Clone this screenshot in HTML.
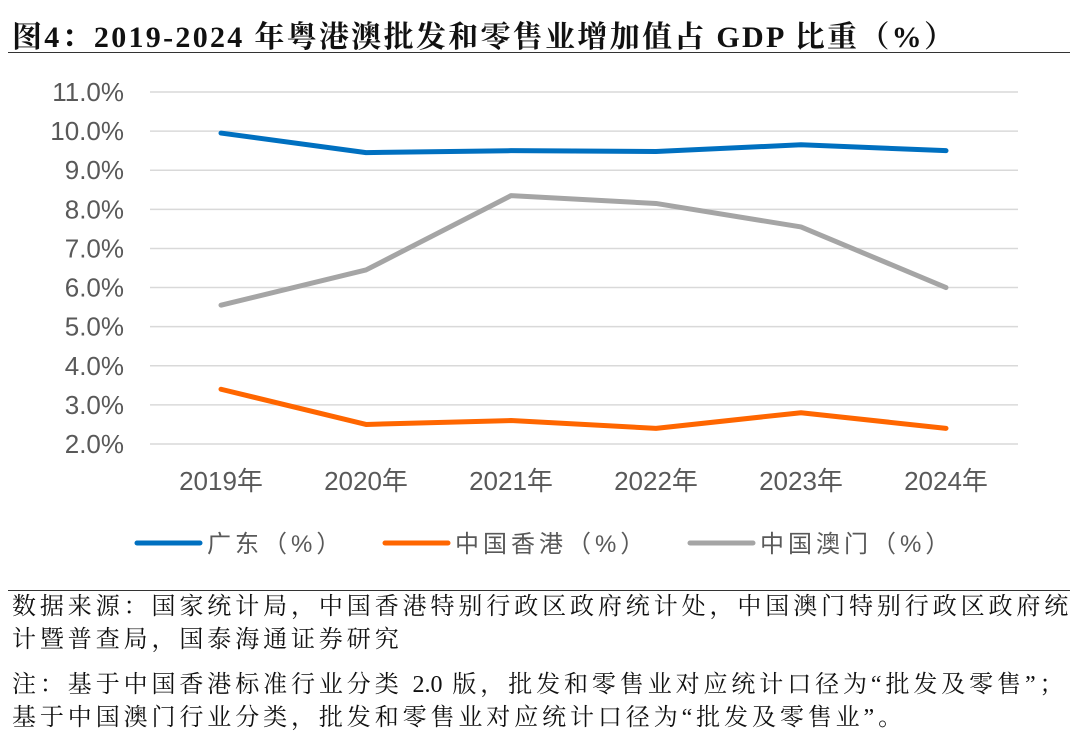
<!DOCTYPE html>
<html><head><meta charset="utf-8"><style>
body{margin:0;width:1080px;height:745px;background:#fff;overflow:hidden;position:relative;font-family:"Liberation Serif","Noto Serif CJK SC",serif}
.t{position:absolute;white-space:nowrap}
.n{letter-spacing:0}
</style></head><body>
<div class="t" style="left:12px;top:12px;font-size:30px;letter-spacing:2.3px;font-weight:bold;color:#111">图4：2019-2024 年粤港澳批发和零售业增加值占 GDP 比重（%）</div>
<div style="position:absolute;left:8px;top:52px;width:1062px;height:1px;background:#333"></div>
<svg id="c" width="1080" height="590" style="position:absolute;left:0;top:0" font-family="Liberation Sans, Noto Sans CJK SC, sans-serif"></svg>
<div style="position:absolute;left:8px;top:590px;width:1062px;height:1px;background:#333"></div>
<div class="t" style="left:12px;top:591px;font-size:24px;letter-spacing:3.9px;line-height:33px;color:#111">数据来源：国家统计局，中国香港特别行政区政府统计处，中国澳门特别行政区政府统<br>计暨普查局，国泰海通证券研究</div>
<div class="t" style="left:12px;top:669px;font-size:24px;letter-spacing:3.9px;line-height:33px;color:#111">注：基于中国香港标准行业分类 <span class="n">2.0</span> 版，批发和零售业对应统计口径为“批发及零售”；<br>基于中国澳门行业分类，批发和零售业对应统计口径为“批发及零售业”。</div>
<script>
const categories=["2019年","2020年","2021年","2022年","2023年","2024年"];
const guangdong=[9.95,9.45,9.5,9.48,9.65,9.5];
const hongkong=[3.4,2.5,2.6,2.4,2.8,2.4];
const macau=[5.55,6.45,8.35,8.15,7.55,6.0];
const yTicks=[2,3,4,5,6,7,8,9,10,11];
const seriesNames=["广东（%）","中国香港（%）","中国澳门（%）"];
const svg=document.getElementById('c');const NS="http://www.w3.org/2000/svg";
const y=v=>444-(v-2)*(444-92)/9;
const x=i=>221+i*145;
function mk(t,a){const e=document.createElementNS(NS,t);for(const k in a)e.setAttribute(k,a[k]);svg.appendChild(e);return e;}
yTicks.forEach(v=>{
 const g=mk('line',{x1:150,x2:1018,y1:y(v),y2:y(v),stroke:'#d9d9d9','stroke-width':1.5});
 
 
 const t=mk('text',{x:124,y:y(v)+9,'text-anchor':'end','font-size':26,fill:'#595959'});t.textContent=v.toFixed(1)+'%';
 
 
});
categories.forEach((c,i)=>{
 const t=mk('text',{x:x(i),y:490,'text-anchor':'middle','font-size':26,fill:'#595959'});t.textContent=c;
 
 
});
const cols=['#0070C0','#FF6600','#A5A5A5'];
[guangdong,hongkong,macau].forEach((d,s)=>{
 const p=mk('polyline',{points:d.map((v,i)=>x(i)+','+y(v)).join(' '),fill:'none',stroke:cols[s],'stroke-width':5,'stroke-linejoin':'round','stroke-linecap':'round'});
 
 
});
const lx=[137,385,690];
seriesNames.forEach((n,s)=>{
 const l=mk('line',{x1:lx[s],x2:lx[s]+63,y1:543,y2:543,stroke:cols[s],'stroke-width':5,'stroke-linecap':'round'});
 
 
 const t=mk('text',{x:lx[s]+70,y:552,'font-size':24,fill:'#595959','letter-spacing':4});t.textContent=n;
 
 
});
</script>
</body></html>
